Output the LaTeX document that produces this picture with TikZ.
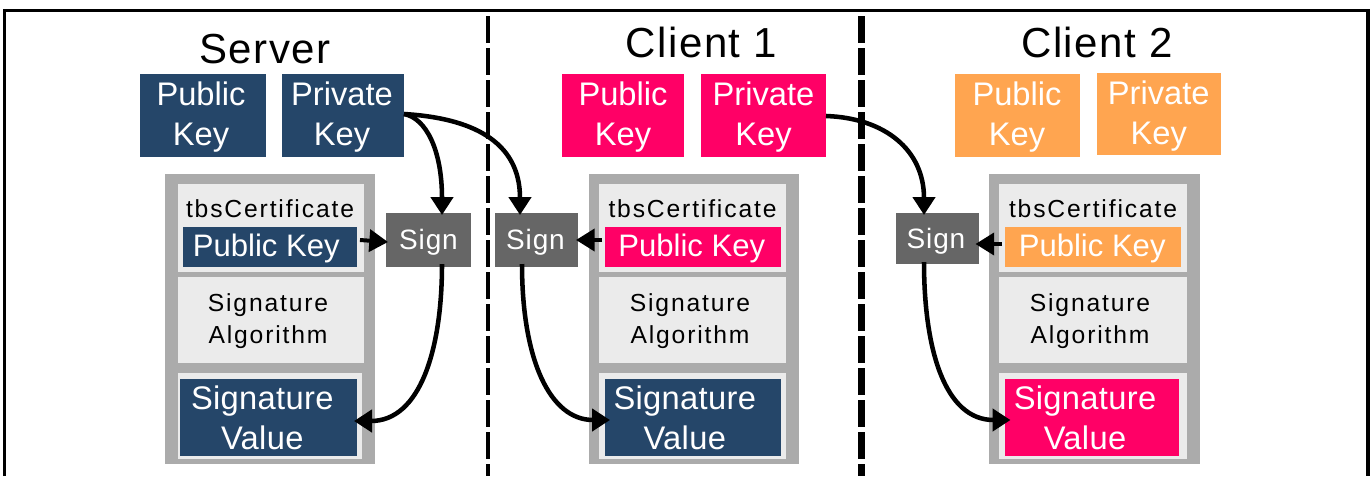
\documentclass[tikz,border=0pt]{standalone}
\usepackage{fontspec}
\setmainfont{Liberation Sans}
\newfontfamily\titlefont[LetterSpace=3.5]{Liberation Sans}
\newfontfamily\fieldfont[LetterSpace=7.5]{Liberation Sans}
\newfontfamily\signfont[LetterSpace=3]{Liberation Sans}
\newfontfamily\valuefont[LetterSpace=1]{Liberation Sans}
\usetikzlibrary{arrows.meta}
\definecolor{navy}{HTML}{254669}
\definecolor{hot}{HTML}{FF0066}
\definecolor{tan}{HTML}{FFA550}
\definecolor{signgray}{HTML}{666666}
\definecolor{certgray}{HTML}{ABABAB}
\definecolor{fieldgray}{HTML}{EBEBEB}
\tikzset{
  x=0.75pt,y=-0.75pt,
  plain/.style={inner sep=0pt,outer sep=0pt},
  keytext/.style={plain,align=center,text=white,font=\fontsize{24.5}{30}\selectfont},
  pktext/.style={plain,text=white,font=\fontsize{23.3}{28}\selectfont},
  certbox/.style={plain,fill=certgray},
  field/.style={plain,fill=fieldgray},
  fieldtext/.style={plain,align=center,text=black,font=\fieldfont\fontsize{18.5}{24}\selectfont},
  sigtext/.style={plain,align=center,text=white,font=\valuefont\fontsize{24.5}{30}\selectfont},
  signtext/.style={plain,text=white,font=\signfont\fontsize{21}{24}\selectfont},
  signbox/.style={plain,fill=signgray},
  title/.style={plain,anchor=base,text=black,font=\titlefont\fontsize{31.5}{36}\selectfont},
  conn/.style={line width=3.4pt,-{Triangle[length=13.5pt,width=16.5pt]}},
  stub/.style={line width=3pt,-{Triangle[length=14pt,width=16.5pt]}},
  divider/.style={dash pattern=on 20pt off 4pt},
}
\newcommand{\bx}[6]{\pgfmathsetmacro\bw{(#5-#3)*0.75}\pgfmathsetmacro\bh{(#6-#4)*0.75}%
  \node[#1,minimum width=\bw pt,minimum height=\bh pt,anchor=north west] (#2) at (#3,#4) {};}
\newcommand{\tx}[5]{\node[#1] (#2t) at ([shift={(#3,#4)}]#2.center) {#5};}
\begin{document}
\begin{tikzpicture}
\useasboundingbox (0,0) rectangle (1370,476);
\fill[white] (0,0) rectangle (1370,476);
\coordinate (fbl) at (4.5,476); \coordinate (ftl) at (4.5,10.5);
\coordinate (ftr) at (1368,10.5); \coordinate (fbr) at (1368,476);
\draw[line width=2.4pt] (fbl) -- (ftl) -- (ftr) -- (fbr);
\coordinate (d1t) at (488,16); \coordinate (d1b) at (488,476);
\coordinate (d2t) at (861.5,16); \coordinate (d2b) at (861.5,476);
\draw[divider,line width=3.4pt] (d1t) -- (d1b);
\draw[divider,line width=4.9pt] (d2t) -- (d2b);
% titles
\node[title] (ts) at (265,63) {Server};
\node[title] (tc1) at (701.5,57) {Client 1};
\node[title] (tc2) at (1097,57) {Client 2};
% keys
\bx{plain,fill=navy}{spub}{140}{74}{266}{157}
\tx{keytext}{spub}{-2}{2}{Public\\Key}
\bx{plain,fill=navy}{spriv}{282}{74}{404}{157}
\tx{keytext}{spriv}{-1}{2}{Private\\Key}
\bx{plain,fill=hot}{capub}{562}{74}{684}{157}
\tx{keytext}{capub}{0}{2}{Public\\Key}
\bx{plain,fill=hot}{capriv}{701}{74}{826}{157}
\tx{keytext}{capriv}{0}{2}{Private\\Key}
\bx{plain,fill=tan}{cbpub}{954.5}{74}{1079.5}{157}
\tx{keytext}{cbpub}{0}{2}{Public\\Key}
\bx{plain,fill=tan}{cbpriv}{1096.5}{73}{1221}{155}
\tx{keytext}{cbpriv}{0}{2}{Private\\Key}
% certificates
\bx{certbox}{scert}{165}{173.5}{375}{464}
\bx{certbox}{cacert}{589}{173.5}{799}{464}
\bx{certbox}{cbcert}{989}{173.5}{1200}{464}
% server
\bx{field}{stbs}{178}{184}{364}{272}
\node[fieldtext,anchor=base] (stbst) at (270,217) {tbsCertificate};
\bx{plain,fill=navy}{spk}{183}{227}{356.5}{267}
\tx{pktext}{spk}{-3.5}{1}{Public Key}
\bx{field}{salg}{178}{277}{364}{363}
\tx{fieldtext}{salg}{-3}{1}{Signature\\Algorithm}
\bx{field}{ssigb}{178}{373}{361.5}{459}
\bx{plain,fill=navy}{ssig}{180}{379}{356.5}{456}
\tx{sigtext}{ssig}{-6}{0}{Signature\\Value}
% client 1
\bx{field}{catbs}{599}{184}{786}{272}
\node[fieldtext,anchor=base] (catbst) at (692.5,217) {tbsCertificate};
\bx{plain,fill=hot}{capk}{605}{227}{780.5}{267}
\tx{pktext}{capk}{-1}{1}{Public Key}
\bx{field}{caalg}{599}{277}{786}{363}
\tx{fieldtext}{caalg}{-2.5}{1}{Signature\\Algorithm}
\bx{field}{casigb}{599}{373}{786}{459}
\bx{plain,fill=navy}{casig}{605}{379}{780.5}{456}
\tx{sigtext}{casig}{-8}{0}{Signature\\Value}
% client 2
\bx{field}{cbtbs}{999}{184}{1187}{272}
\node[fieldtext,anchor=base] (cbtbst) at (1093,217) {tbsCertificate};
\bx{plain,fill=tan}{cbpk}{1005}{227}{1181.4}{267}
\tx{pktext}{cbpk}{-1}{1}{Public Key}
\bx{field}{cbalg}{999}{277}{1187}{363}
\tx{fieldtext}{cbalg}{-3}{1}{Signature\\Algorithm}
\bx{field}{cbsigb}{999}{373}{1187}{459}
\bx{plain,fill=hot}{cbsig}{1005}{379}{1179}{456}
\tx{sigtext}{cbsig}{-7}{0}{Signature\\Value}
% sign boxes
\bx{signbox}{sa}{386}{213}{471}{266.5}
\tx{signtext}{sa}{0}{3}{Sign}
\bx{signbox}{sb}{495}{213}{578}{266.5}
\tx{signtext}{sb}{-1}{3}{Sign}
\bx{signbox}{sc}{895.5}{213}{978.5}{264}
\tx{signtext}{sc}{-1}{3}{Sign}
% connector ends
\coordinate (o1) at (404,114);
\coordinate (o2) at (826,116);
\coordinate (satop) at (442,215);
\coordinate (sbtop) at (520,215);
\coordinate (sctop) at (924,215);
\coordinate (sabot) at (442,264);
\coordinate (sbbot) at (522,264);
\coordinate (scbot) at (924,262);
\coordinate (ssigin) at (354,421);
\coordinate (casigin) at (610,420);
\coordinate (cbsigin) at (1010.5,420);
\coordinate (spkout) at (360,240); \coordinate (saleft) at (388,242);
\coordinate (capkout) at (602,240); \coordinate (sbright) at (576,240);
\coordinate (cbpkout) at (1002,244); \coordinate (scright) at (975.5,244);
% connectors
\draw[conn] (o1) .. controls (426,118) and (442,150) .. (satop);
\draw[conn] (o1) .. controls (470,118) and (520,140) .. (sbtop);
\draw[conn] (o2) .. controls (885,118) and (924,150) .. (sctop);
\draw[conn] (sabot) .. controls (442,350) and (420,421) .. (ssigin);
\draw[conn] (sbbot) .. controls (522,360) and (550,420) .. (casigin);
\draw[conn] (scbot) .. controls (924,350) and (945,420) .. (cbsigin);
\draw[stub] (spkout) -- (saleft);
\draw[stub] (capkout) -- (sbright);
\draw[stub] (cbpkout) -- (scright);
\end{tikzpicture}
\end{document}
